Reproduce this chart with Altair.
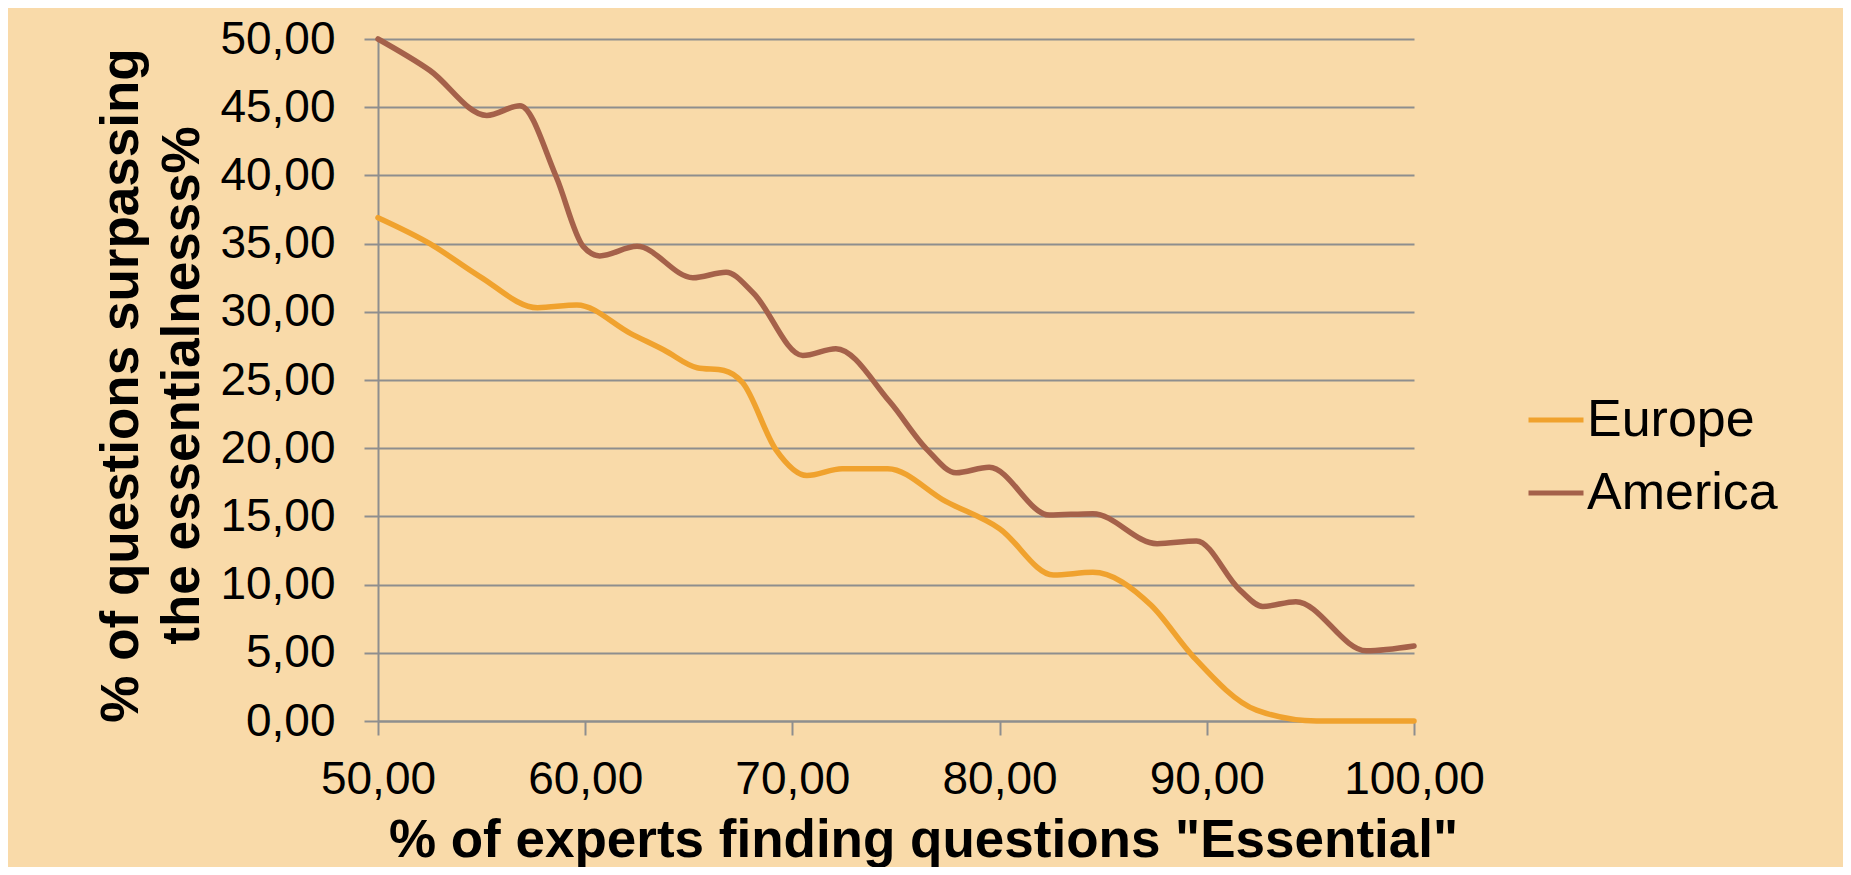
import altair as alt
import pandas as pd

# ---- data ----
europe_x = [50.0, 52.5, 54.9, 57.7, 59.6, 62.2, 63.8, 65.4, 66.7, 67.6, 69.2, 70.7,
            72.4, 74.6, 77.4, 80.0, 82.6, 84.5, 87.3, 89.3, 92.4, 95.3, 100.0]
europe_y = [36.9, 35.0, 32.6, 30.3, 30.5, 28.4, 27.2, 25.9, 25.7, 24.8, 19.9, 18.0,
            18.5, 18.5, 16.1, 14.1, 10.7, 10.9, 8.5, 4.8, 0.8, 0.0, 0.0]

america_x = [50.0, 52.5, 55.25, 56.85, 58.6, 59.9, 60.7, 62.5, 65.2, 66.8, 68.1, 70.5,
             72.1, 74.7, 76.5, 77.9, 79.5, 82.4, 84.5, 87.6, 89.5, 91.6, 92.7, 94.3,
             97.7, 100.0]
america_y = [50.0, 47.7, 44.4, 45.1, 39.9, 34.8, 34.1, 34.8, 32.5, 32.9, 31.4, 26.8,
             27.3, 23.4, 19.9, 18.2, 18.6, 15.1, 15.2, 13.0, 13.2, 9.6, 8.4, 8.75,
             5.15, 5.5]

series_names = ["Europe", "America"]
series_colors = ["#F0A22E", "#A5614A"]
x_ticks = [50, 60, 70, 80, 90, 100]
y_ticks = [0, 5, 10, 15, 20, 25, 30, 35, 40, 45, 50]

rows = [{"x": a, "y": b, "region": "Europe"} for a, b in zip(europe_x, europe_y)]
rows += [{"x": a, "y": b, "region": "America"} for a, b in zip(america_x, america_y)]
df = pd.DataFrame(rows)

BG = "#F9DAA9"
GRID = "#8E8E8E"
FONT = "Liberation Sans"
fmt = "replace(format(datum.value, '.2f'), '.', ',')"

W, H = 1036, 682
PL, PT = 370, 31
PR = 1835 - PL - W
PB = 859 - PT - H

chart = alt.Chart(df).mark_line(strokeWidth=5.5, interpolate="monotone", strokeCap="round").encode(
    x=alt.X("x:Q",
            scale=alt.Scale(domain=[50, 100], nice=False, zero=False),
            axis=alt.Axis(values=x_ticks, labelExpr=fmt, grid=False, labelFlush=False,
                          labelOverlap=False,
                          domainColor=GRID, domainWidth=2, tickColor=GRID, tickWidth=2, tickSize=14,
                          labelFont=FONT, labelFontSize=46, labelColor="black", labelPadding=22,
                          labelBaseline="top",
                          title='% of experts finding questions "Essential"',
                          titleFont=FONT, titleFontSize=53, titleFontWeight="bold", titleColor="black",
                          titleX=545, titleY=135, titleAlign="center", titleBaseline="alphabetic")),
    y=alt.Y("y:Q",
            scale=alt.Scale(domain=[0, 50], nice=False),
            axis=alt.Axis(values=y_ticks, labelExpr=fmt, grid=True, gridColor=GRID, gridWidth=2,
                          labelOverlap=False,
                          domainColor=GRID, domainWidth=2, tickColor=GRID, tickWidth=2, tickSize=14,
                          labelFont=FONT, labelFontSize=46, labelColor="black", labelPadding=29,
                          title=["% of questions surpassing", "the essentialnesss%"],
                          titleFont=FONT, titleFontSize=53, titleFontWeight="bold", titleColor="black",
                          titleLineHeight=61, titleAngle=270, titleAlign="center",
                          titleBaseline="alphabetic", titleX=-241, titleY=346)),
    color=alt.Color("region:N",
                    scale=alt.Scale(domain=series_names, range=series_colors),
                    legend=alt.Legend(title=None, orient="none", legendX=1148, legendY=351,
                                      symbolType="stroke", symbolSize=3025, symbolStrokeWidth=5,
                                      labelFont=FONT, labelFontSize=52, labelColor="black",
                                      labelOffset=1, rowPadding=17, labelLimit=400)),
).properties(
    width=W, height=H,
    autosize=alt.AutoSizeParams(type="none"),
    padding={"left": PL, "top": PT, "right": PR, "bottom": PB},
    background=BG,
).configure_view(stroke=None)

chart.save("out.html", embed_options={"renderer": "svg", "actions": False})
